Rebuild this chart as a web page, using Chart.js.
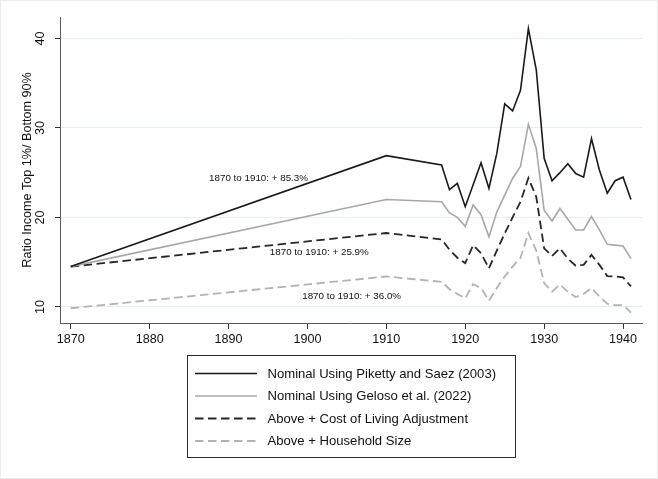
<!DOCTYPE html>
<html>
<head>
<meta charset="utf-8">
<script src="https://cdn.jsdelivr.net/npm/chart.js@4/dist/chart.umd.min.js"></script>
<style>
  html, body { margin: 0; padding: 0; background: #ffffff; }
  #wrap { width: 658px; height: 479px; position: relative; }
</style>
</head>
<body>
<div id="wrap"><canvas id="ratioChart" width="658" height="479"></canvas></div>
<script>
// Years with an observation (two benchmark years, then annual 1917-1941)
const years = [1870, 1910, 1917, 1918, 1919, 1920, 1921, 1922, 1923, 1924, 1925, 1926, 1927, 1928, 1929,
               1930, 1931, 1932, 1933, 1934, 1935, 1936, 1937, 1938, 1939, 1940, 1941];

// Ratio of top 1% income to bottom 90% income
const pikettySaez   = [14.52, 26.9, 25.85, 23.1, 23.8, 21.2, 23.65, 26.1, 23.25, 27.15, 32.7, 31.9, 34.2, 41.1, 36.5,
                       26.6, 24.1, 25.0, 26.0, 24.9, 24.5, 28.8, 25.3, 22.7, 24.1, 24.5, 22.0];
const geloso        = [14.5, 22.0, 21.75, 20.5, 20.0, 19.0, 21.4, 20.3, 17.85, 20.6, 22.5, 24.35, 25.7, 30.4, 27.7,
                       20.8, 19.6, 21.0, 19.8, 18.6, 18.6, 20.1, 18.6, 17.0, 16.9, 16.8, 15.4];
const costOfLiving  = [14.5, 18.26, 17.55, 16.4, 15.5, 14.9, 16.9, 16.0, 14.3, 16.3, 18.2, 20.0, 21.75, 24.4, 22.3,
                       16.55, 15.7, 16.55, 15.4, 14.6, 14.7, 15.8, 14.7, 13.45, 13.4, 13.3, 12.3];
const householdSize = [9.85, 13.4, 12.8, 12.0, 11.45, 10.95, 12.55, 12.1, 10.7, 12.1, 13.4, 14.5, 15.5, 18.25, 16.3,
                       12.65, 11.7, 12.5, 11.7, 11.1, 11.45, 12.1, 11.15, 10.35, 10.2, 10.2, 9.35];

const seriesNames = [
  'Nominal Using Piketty and Saez (2003)',
  'Nominal Using Geloso et al. (2022)',
  'Above + Cost of Living Adjustment',
  'Above + Household Size'
];

const growthLabels = ['1870 to 1910: + 85.3%', '1870 to 1910: + 25.9%', '1870 to 1910: + 36.0%'];

const yearTicks  = [1870, 1880, 1890, 1900, 1910, 1920, 1930, 1940];
const ratioTicks = [10, 20, 30, 40];
const yTitle = 'Ratio Income Top 1%/ Bottom 90%';

const FONT = "'Liberation Sans', Arial, Helvetica, sans-serif";
Chart.defaults.font.family = FONT;
Chart.defaults.color = '#111111';

const toPoints = vals => years.map((yr, i) => ({ x: yr, y: vals[i] }));

// White page with a faint outer frame
const pageFrame = {
  id: 'pageFrame',
  beforeDraw(chart) {
    const { ctx, width, height } = chart;
    ctx.save();
    ctx.fillStyle = '#ffffff';
    ctx.fillRect(0, 0, width, height);
    ctx.strokeStyle = '#ececec';
    ctx.lineWidth = 1;
    ctx.strokeRect(0.5, 0.5, width - 1, height - 1);
    ctx.restore();
  }
};

// Percentage-change notes placed in data coordinates
const growthNotes = {
  id: 'growthNotes',
  afterDatasetsDraw(chart) {
    const { ctx, scales: { x, y } } = chart;
    const anchors = [[1893.8, 24.4], [1901.5, 16.1], [1905.6, 11.2]];
    ctx.save();
    ctx.font = '9.8px ' + FONT;
    ctx.fillStyle = '#111111';
    ctx.textAlign = 'center';
    ctx.textBaseline = 'middle';
    growthLabels.forEach((txt, i) => {
      ctx.fillText(txt, x.getPixelForValue(anchors[i][0]), y.getPixelForValue(anchors[i][1]));
    });
    ctx.restore();
  }
};

// Boxed single-column key under the plot
const seriesKey = {
  id: 'seriesKey',
  afterDraw(chart) {
    const { ctx, chartArea } = chart;
    const boxW = 328, boxH = 102;
    const left = Math.round((chartArea.left + chartArea.right) / 2 - boxW / 2) + 0.5;
    const top = 355.5;
    ctx.save();
    ctx.strokeStyle = '#2b2b2b';
    ctx.lineWidth = 1;
    ctx.setLineDash([]);
    ctx.strokeRect(left, top, boxW, boxH);
    ctx.font = '13.1px ' + FONT;
    ctx.textAlign = 'left';
    ctx.textBaseline = 'middle';
    chart.data.datasets.forEach((ds, i) => {
      const yy = 373.5 + i * 22.5;
      ctx.beginPath();
      ctx.setLineDash(ds.borderDash || []);
      ctx.strokeStyle = ds.borderColor;
      ctx.lineWidth = ds.borderWidth;
      ctx.moveTo(left + 7.5, yy);
      ctx.lineTo(left + 69.5, yy);
      ctx.stroke();
      ctx.setLineDash([]);
      ctx.fillStyle = '#111111';
      ctx.fillText(ds.label, left + 80, yy + 0.5);
    });
    ctx.restore();
  }
};

new Chart(document.getElementById('ratioChart'), {
  type: 'line',
  data: {
    datasets: [
      { label: seriesNames[0], data: toPoints(pikettySaez),   borderColor: '#1a1a1a', borderWidth: 1.6 },
      { label: seriesNames[1], data: toPoints(geloso),        borderColor: '#a8a8a8', borderWidth: 1.6 },
      { label: seriesNames[2], data: toPoints(costOfLiving),  borderColor: '#262626', borderWidth: 1.8, borderDash: [8.5, 4.5] },
      { label: seriesNames[3], data: toPoints(householdSize), borderColor: '#b3b3b3', borderWidth: 1.8, borderDash: [8.5, 4.5] }
    ]
  },
  options: {
    responsive: false,
    animation: false,
    devicePixelRatio: 1,
    elements: { point: { radius: 0, hoverRadius: 0 }, line: { tension: 0, fill: false } },
    layout: { padding: { top: 17, right: 16, bottom: 126, left: 0 } },
    plugins: { legend: { display: false }, tooltip: { enabled: false } },
    events: [],
    scales: {
      x: {
        type: 'linear',
        min: 1868.64,
        max: 1942.4,
        afterBuildTicks: s => { s.ticks = yearTicks.map(v => ({ value: v })); },
        afterFit: s => { s.height = 30; },
        ticks: { callback: v => String(v), font: { size: 12.6 }, color: '#111111', padding: 3, maxRotation: 0, autoSkip: false },
        grid: { drawOnChartArea: false, tickLength: 6, tickColor: '#333333', tickWidth: 1 },
        border: { color: '#5a5a5a', width: 1 }
      },
      y: {
        type: 'linear',
        min: 8.2,
        max: 42.4,
        afterBuildTicks: s => { s.ticks = ratioTicks.map(v => ({ value: v })); },
        afterFit: s => { s.width = 60; },
        ticks: { minRotation: 90, maxRotation: 90, crossAlign: 'center', padding: 7, font: { size: 12.6 }, color: '#111111' },
        grid: { color: '#e6eef1', lineWidth: 1, tickLength: 5, tickColor: '#333333', tickWidth: 1 },
        border: { color: '#5a5a5a', width: 1 },
        title: { display: true, text: yTitle, font: { size: 12.6 }, color: '#111111', padding: { top: 19.5, bottom: 0 } }
      }
    }
  },
  plugins: [pageFrame, growthNotes, seriesKey]
});
</script>
</body>
</html>
